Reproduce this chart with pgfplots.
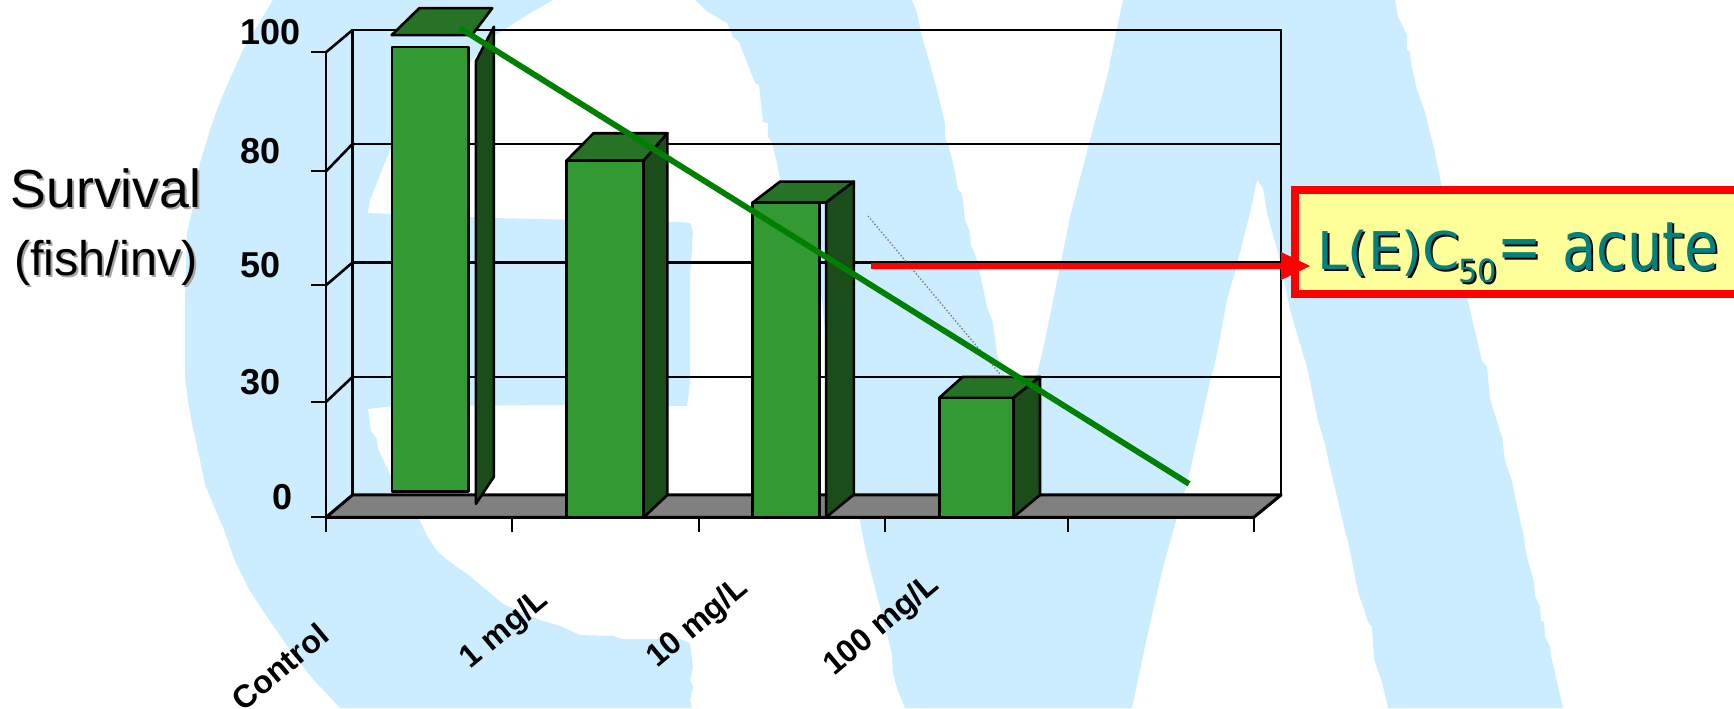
\documentclass[border=0pt]{standalone}
\usepackage{fontspec}
\setmainfont{Liberation Sans}
\newfontfamily\boxfont{DejaVu Sans}
\usepackage{pgfplots}
\pgfplotsset{compat=1.18}

\definecolor{wash}{HTML}{CCECFF}
\definecolor{barfront}{HTML}{339933}
\definecolor{bartop}{HTML}{267326}
\definecolor{barside}{HTML}{1A4D1A}
\definecolor{trend}{HTML}{008000}
\definecolor{floorgray}{HTML}{808080}
\definecolor{boxfill}{HTML}{FFFF99}
\definecolor{boxtext}{HTML}{008080}

% soft offset shadow behind the axis caption
\newcommand{\shadowed}[4]{%
  \node[anchor=center,text=black!35] at (#1+2,#2+2) {\fontsize{#3}{#3}\selectfont #4};
  \node[anchor=center,text=black] at (#1,#2) {\fontsize{#3}{#3}\selectfont #4};}
% one piece of the callout text, hard black shadow under teal
\newcommand{\calloutpiece}[5]{%
  \node[anchor=base west,inner sep=0pt,text=black] at (#1+2,#2+1.5) {\boxfont\fontsize{#3}{#3}\selectfont\scalebox{#4}[1]{#5}};
  \node[anchor=base west,inner sep=0pt,text=boxtext] at (#1,#2) {\boxfont\fontsize{#3}{#3}\selectfont\scalebox{#4}[1]{#5}};}

\pgfplotsset{
  wall/.style={black,line width=1.3pt},
  edge/.style={draw=black,line width=1.3pt,line join=round},
}

\begin{document}
\begin{tikzpicture}
\useasboundingbox (0pt,0pt) rectangle (867pt,-354pt);

\begin{scope}[x=0.5pt,y=-0.5pt]
  % backdrop lettering
  \fill[wash] (273,0) -- (553,0) -- (527,15) -- (493,37) -- (390,150) -- (370,200) -- (368,213)
    -- (493,218) -- (680,222) -- (690,223) -- (693,232) -- (690,277) -- (690,384) -- (687,406)
    -- (567,405) -- (393,406) -- (368,409) -- (371,431) -- (377,439) -- (378,449) -- (390,474)
    -- (420,521) -- (427,536) -- (437,551) -- (450,562) -- (470,576) -- (503,604) -- (537,619)
    -- (560,626) -- (580,635) -- (613,636) -- (622,639) -- (680,639) -- (690,643) -- (693,667)
    -- (690,680) -- (693,687) -- (690,700) -- (692,708) -- (340,708) -- (313,679) -- (293,654)
    -- (267,617) -- (250,591) -- (235,561) -- (223,527) -- (213,504) -- (205,484) -- (198,451)
    -- (192,424) -- (188,401) -- (185,377) -- (185,300) -- (187,233) -- (193,207) -- (200,163)
    -- (210,130) -- (218,107) -- (228,83) -- (243,50) -- (253,33) -- cycle;
  \fill[wash] (695,0) -- (708,12) -- (727,23) -- (733,37) -- (739,42) -- (755,83) -- (759,85)
    -- (763,122) -- (768,123) -- (768,137) -- (772,143) -- (777,163) -- (780,180) -- (800,240)
    -- (822,300) -- (830,380) -- (845,460) -- (860,521) -- (867,557) -- (880,607) -- (892,654)
    -- (893,674) -- (898,691) -- (905,708) -- (1132,708) -- (1147,637) -- (1163,567) -- (1177,517)
    -- (1187,484) -- (1200,427) -- (1210,381) -- (1217,354) -- (1227,300) -- (1238,260) -- (1250,213)
    -- (1257,180) -- (1263,188) -- (1267,213) -- (1280,260) -- (1290,310) -- (1303,354) -- (1307,367)
    -- (1318,421) -- (1325,444) -- (1327,454) -- (1345,531) -- (1348,541) -- (1352,561) -- (1358,592)
    -- (1368,622) -- (1372,627) -- (1374,659) -- (1382,682) -- (1388,708) -- (1563,708) -- (1551,656)
    -- (1550,647) -- (1545,636) -- (1544,622) -- (1541,621) -- (1540,607) -- (1535,596) -- (1534,582)
    -- (1531,571) -- (1528,561) -- (1525,547) -- (1524,537) -- (1518,511) -- (1512,481) -- (1505,461)
    -- (1502,437) -- (1490,399) -- (1487,367) -- (1482,361) -- (1467,297) -- (1442,187) -- (1435,153)
    -- (1425,112) -- (1417,90) -- (1411,63) -- (1410,52) -- (1407,50) -- (1407,35) -- (1403,27)
    -- (1398,17) -- (1395,0) -- (1123,0) -- (1117,28) -- (1107,77) -- (1090,140) -- (1070,217)
    -- (1060,267) -- (1042,354) -- (1037,374) -- (1020,420) -- (1001,365) -- (997,354) -- (993,323)
    -- (987,307) -- (982,283) -- (977,260) -- (971,245) -- (970,232) -- (965,220) -- (962,193)
    -- (958,190) -- (955,172) -- (949,147) -- (945,137) -- (945,123) -- (937,90) -- (928,57)
    -- (922,37) -- (917,13) -- (912,0) -- cycle;

  % callout box
  \draw[red,line width=4pt,fill=boxfill] (1295,190) rectangle (1760,294);
  \calloutpiece{1317}{269.5}{26}{1.03}{L(E)C}
  \calloutpiece{1458}{282.5}{16}{0.95}{50}
  \calloutpiece{1497}{269.5}{33}{0.8}{=}
  \calloutpiece{1562}{270}{34}{0.82}{acute}

  % axis caption
  \shadowed{106}{188}{26.8}{Survival}
  \shadowed{106}{263}{24.3}{(fish/inv)}
\end{scope}

\begin{axis}[
  at={(163pt,-258.65pt)}, anchor=origin,
  scale only axis, width=463.9pt, height=232.5pt,
  xmin=0, xmax=5, ymin=0, ymax=100,
  clip=false,
  axis x line=bottom, axis y line=left,
  axis line style={-,black,line width=1.2pt},
  xtick={0,1.002,2.01,3.013,3.997,5}, xticklabels={},
  ytick={0,24.8,49.9,74.4,100},
  yticklabels={\hspace{16pt}0,30,50,80,100},
  tick align=outside,
  major tick length=7.5pt,
  tick style={black,line width=1.1pt},
  yticklabel style={anchor=west,xshift=-38.8pt,yshift=10pt,
    font=\fontsize{18}{18}\selectfont\bfseries},
]
% rear wall and gridlines
\addplot[wall,line width=1.4pt] coordinates {(0.143,4.8) (0.143,104.8) (5.147,104.8) (5.147,4.8)};
\addplot[wall] coordinates {(0.143,80.3) (5.147,80.3)};
\addplot[wall] coordinates {(0.143,54.8) (5.147,54.8)};
\addplot[wall] coordinates {(0.143,30.2) (5.147,30.2)};
\addplot[wall] coordinates {(0,100) (0.143,104.8)};
\addplot[wall] coordinates {(0,74.4) (0.143,80.3)};
\addplot[wall] coordinates {(0,49.9) (0.143,54.8)};
\addplot[wall] coordinates {(0,24.8) (0.143,30.2)};

% floor
\addplot[edge,line width=1.5pt,fill=floorgray] coordinates {(0,0) (5,0) (5.147,4.8) (0.143,4.8)} --cycle;

% control bar, its faces pulled apart
\addplot[edge,fill=barfront] coordinates {(0.356,5.5) (0.768,5.5) (0.768,101.1) (0.356,101.1)} --cycle;
\addplot[edge,fill=bartop] coordinates {(0.354,103.7) (0.787,103.7) (0.896,109.5) (0.503,109.5)} --cycle;
\addplot[edge,fill=barside] coordinates {(0.808,2.9) (0.905,8.7) (0.905,105.5) (0.808,98.1)} --cycle;

% 1 mg/L
\addplot[edge,fill=bartop] coordinates {(1.296,76.7) (1.712,76.7) (1.840,82.6) (1.442,82.6)} --cycle;
\addplot[edge,fill=barside] coordinates {(1.712,0) (1.840,4.8) (1.840,82.6) (1.712,76.7)} --cycle;
\addplot[edge,fill=barfront] coordinates {(1.296,0) (1.712,0) (1.712,76.7) (1.296,76.7)} --cycle;

% 10 mg/L
\addplot[edge,fill=bartop] coordinates {(2.300,67.7) (2.695,67.7) (2.845,72.2) (2.447,72.2)} --cycle;
\addplot[edge,fill=barside] coordinates {(2.695,0) (2.845,4.9) (2.845,72.2) (2.695,67.7)} --cycle;
\addplot[edge,fill=barfront] coordinates {(2.300,0) (2.659,0) (2.659,67.7) (2.300,67.7)} --cycle;

% 100 mg/L
\addplot[edge,fill=bartop] coordinates {(3.305,25.7) (3.704,25.7) (3.848,30.2) (3.431,30.2)} --cycle;
\addplot[edge,fill=barside] coordinates {(3.704,0) (3.848,4.8) (3.848,30.2) (3.704,25.7)} --cycle;
\addplot[edge,fill=barfront] coordinates {(3.305,0) (3.704,0) (3.704,25.7) (3.305,25.7)} --cycle;

% faint construction line, then trend line
\addplot[gray,line width=0.7pt,densely dotted] coordinates {(2.921,64.8) (3.632,30.8)};
\addplot[trend,line width=2.9pt] coordinates {(0.722,105.2) (4.651,7.2)};

% pointer from the 50 level to the callout
\addplot[red,line width=3.2pt] coordinates {(2.939,54.04) (5.15,54.04)};
\addplot[draw=none,fill=red] coordinates {(5.147,57.05) (5.303,54.04) (5.147,51.03)} --cycle;

% concentration names
\tikzset{conc/.style={rotate=40,anchor=center,inner sep=0pt,
  font=\fontsize{16}{16}\selectfont\bfseries}}
\node[conc] at (axis cs:-0.248,-32.2) {Control};
\node[conc] at (axis cs:0.965,-24.2) {1 mg/L};
\node[conc] at (axis cs:2.005,-22.9) {10 mg/L};
\node[conc] at (axis cs:2.996,-23.4) {100 mg/L};
\end{axis}
\end{tikzpicture}
\end{document}
